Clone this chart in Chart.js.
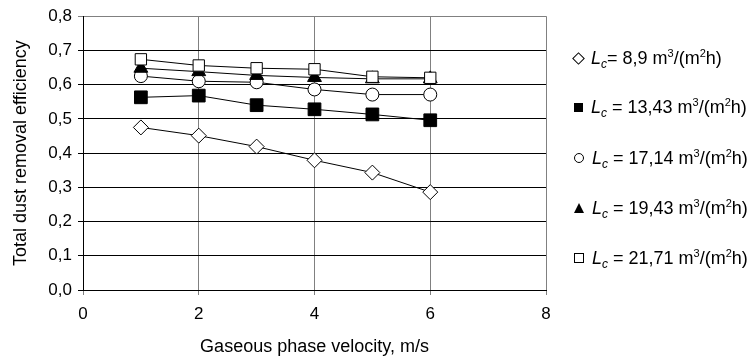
<!DOCTYPE html>
<html>
<head>
<meta charset="utf-8">
<script src="https://cdn.jsdelivr.net/npm/chart.js@4/dist/chart.umd.min.js"></script>
<style>
  html, body { margin: 0; padding: 0; background: #fff; }
  #wrap { position: relative; width: 754px; height: 360px; }
  #legend { position: absolute; left: 0; top: 0; font-family: "Liberation Sans", Arial, sans-serif; font-size: 18px; color: #000; }
  #legend .row { position: absolute; left: 574px; white-space: nowrap; line-height: 20px; height: 20px; }
  #legend .mk { display: inline-block; position: relative; width: 10px; height: 10px; margin-right: 8px; vertical-align: middle; top: -1px; }
  #legend .sb { position: relative; top: 4px; font-size: 12px; font-style: italic; }
  #legend .sp { position: relative; top: -7px; font-size: 11px; }
</style>
</head>
<body>
<div id="wrap">
  <canvas id="chart" width="754" height="360"></canvas>
  <div id="legend"></div>
</div>
<script>
// gas velocity, m/s
const velocity = [1, 2, 3, 4, 5, 6];

// total dust removal efficiency for each liquid flow rate L_c
const eff_8_9 = [0.475, 0.451, 0.419, 0.379, 0.343, 0.286];
const eff_13_43 = [0.563, 0.568, 0.540, 0.528, 0.513, 0.496];
const eff_17_14 = [0.625, 0.610, 0.607, 0.586, 0.571, 0.571];
const eff_19_43 = [0.648, 0.638, 0.627, 0.621, 0.617, 0.617];
const eff_21_71 = [0.674, 0.656, 0.648, 0.645, 0.623, 0.620];

const seriesLabels = ["8,9", "13,43", "17,14", "19,43", "21,71"];
const yTicks = [0, 0.1, 0.2, 0.3, 0.4, 0.5, 0.6, 0.7, 0.8];
const xTicks = [0, 2, 4, 6, 8];

const FONT = "'Liberation Sans', Arial, sans-serif";

function pts(ys) {
    return velocity.map((x, i) => ({ x: x, y: ys[i] }));
}

const styles = [
    { pointStyle: "rectRot", fill: "#fff", r: 7.5 },
    { pointStyle: "rect", fill: "#000", r: 9 },
    { pointStyle: "circle", fill: "#fff", r: 6.5 },
    { pointStyle: "triangle", fill: "#000", r: 8 },
    { pointStyle: "rect", fill: "#fff", r: 8 }
];
const allData = [eff_8_9, eff_13_43, eff_17_14, eff_19_43, eff_21_71];

const datasets = allData.map((ys, i) => ({
    label: seriesLabels[i],
    data: pts(ys),
    borderColor: "#000",
    borderWidth: 1,
    pointStyle: styles[i].pointStyle,
    pointRadius: styles[i].r,
    pointBackgroundColor: styles[i].fill,
    pointBorderColor: "#000",
    pointBorderWidth: 1,
    showLine: true,
    tension: 0
}));

// draw in reverse so the lower series sit on top like in the original
datasets.reverse();

new Chart(document.getElementById("chart"), {
    type: "scatter",
    data: { datasets: datasets },
    options: {
        responsive: false,
        animation: false,
        layout: { padding: { top: 12, right: 208, bottom: 0, left: 0 } },
        plugins: { legend: { display: false }, tooltip: { enabled: false } },
        scales: {
            x: {
                type: "linear",
                min: 0,
                max: 8,
                afterBuildTicks: (s) => { s.ticks = xTicks.map(v => ({ value: v })); },
                afterFit: (s) => { s.height = 70; },
                grid: { color: "#808080", lineWidth: 1, tickLength: 5, drawTicks: true },
                border: { color: "#000", width: 1 },
                ticks: { color: "#000", font: { family: FONT, size: 17 }, padding: 9 },
                title: { display: true, text: "Gaseous phase velocity, m/s", color: "#000", font: { family: FONT, size: 18 }, padding: { top: 4, bottom: 2 } }
            },
            y: {
                min: 0,
                max: 0.8,
                afterBuildTicks: (s) => { s.ticks = yTicks.map(v => ({ value: v })); },
                afterFit: (s) => { s.width = 83; },
                grid: {
                    color: (c) => (c.tick && c.tick.value >= 0.8 ? "#808080" : "#000"),
                    lineWidth: 1,
                    tickLength: 5
                },
                border: { color: "#000", width: 1 },
                ticks: {
                    color: "#000",
                    font: { family: FONT, size: 17 },
                    padding: 6,
                    callback: (v) => v.toFixed(1).replace(".", ",")
                },
                title: { display: true, text: "Total dust removal efficiency", color: "#000", font: { family: FONT, size: 18 }, padding: { top: 10, bottom: 4 } }
            }
        }
    }
});

// legend: marker, italic L with subscript c, units with superscripts
const markerCss = [
    "width:7px;height:7px;border:1px solid #000;background:#fff;transform:rotate(45deg);",
    "width:9px;height:9px;background:#000;",
    "width:8px;height:8px;border:1px solid #000;border-radius:50%;background:#fff;",
    "width:0;height:0;border-left:5px solid transparent;border-right:5px solid transparent;border-bottom:10px solid #000;",
    "width:8px;height:8px;border:1px solid #000;background:#fff;"
];
const legend = document.getElementById("legend");
const rowCenters = [58, 107, 158, 208, 258];
seriesLabels.forEach((lab, i) => {
    const row = document.createElement("div");
    row.className = "row";
    row.style.top = (rowCenters[i] - 10) + "px";
    const eq = i === 0 ? "= " : " = ";
    row.innerHTML = '<span class="mk" style="' + markerCss[i] + '"></span><i>L</i><span class="sb">c</span>' + eq + lab +
        ' m<span class="sp">3</span>/(m<span class="sp">2</span>h)';
    legend.appendChild(row);
});
</script>
</body>
</html>
